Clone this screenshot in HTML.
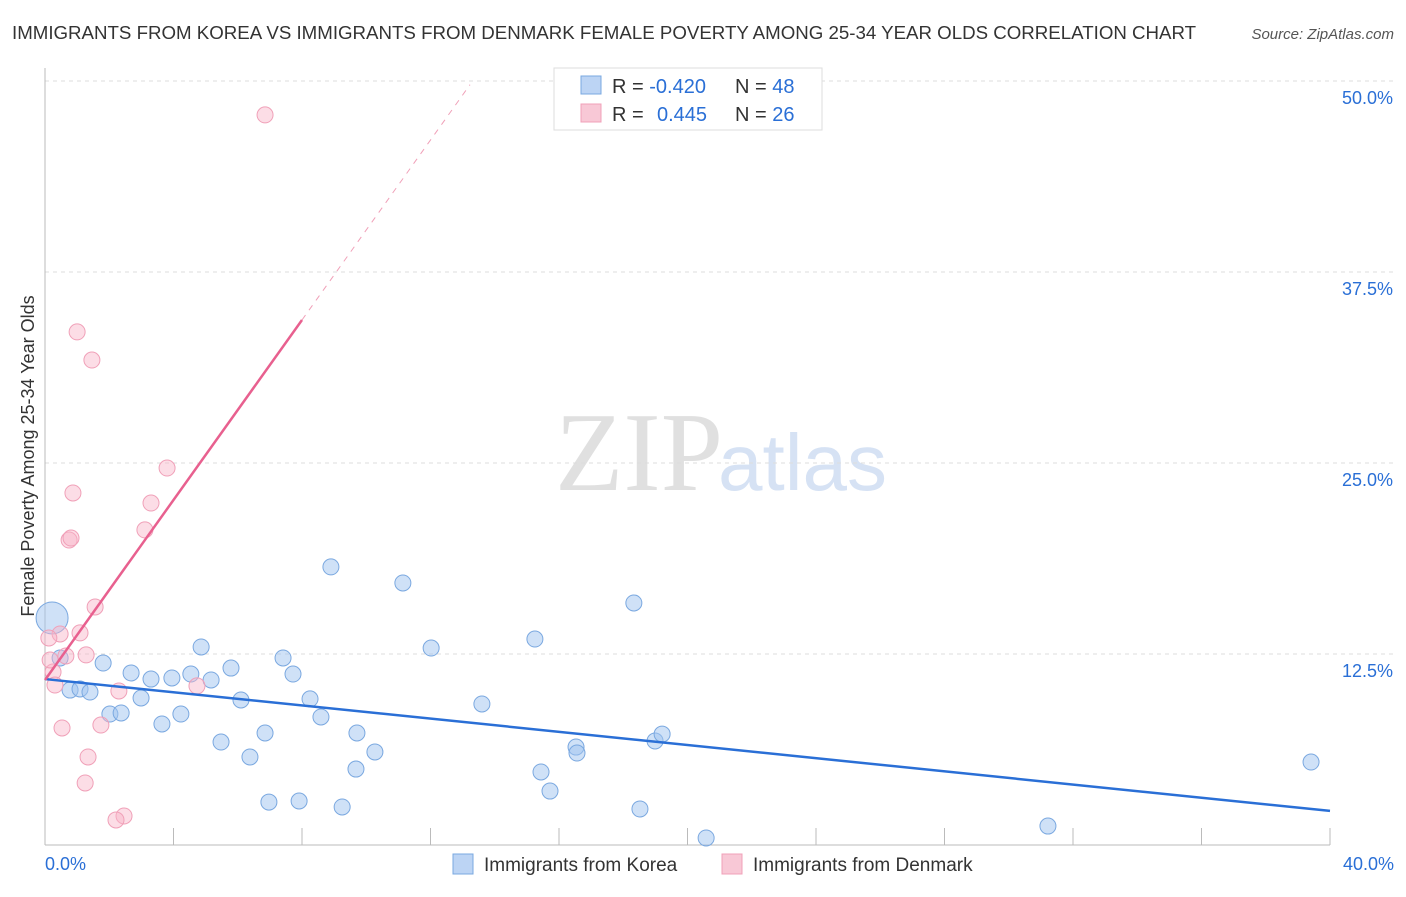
<!DOCTYPE html>
<html><head><meta charset="utf-8"><style>
body{margin:0;background:#fff;font-family:"Liberation Sans",sans-serif;}
svg text{font-family:"Liberation Sans",sans-serif;}
</style></head><body>
<svg id="c" width="1406" height="892" viewBox="0 0 1406 892">
<text x="12" y="39" font-size="18.7" fill="#333">IMMIGRANTS FROM KOREA VS IMMIGRANTS FROM DENMARK FEMALE POVERTY AMONG 25-34 YEAR OLDS CORRELATION CHART</text>
<text x="1394" y="39" font-size="15" fill="#555" text-anchor="end" font-style="italic">Source: ZipAtlas.com</text>
<text x="555" y="490" font-size="112" fill="#e0e0e0" style="font-family:'Liberation Serif',serif">ZIP</text>
<text x="718" y="490" font-size="80" fill="#d6e2f4">atlas</text>
<g id="grid"></g><g id="axes"></g><g id="marks"></g>
<text transform="translate(34,456) rotate(-90)" font-size="18" fill="#333" text-anchor="middle">Female Poverty Among 25-34 Year Olds</text>
<g>
<rect x="554" y="68" width="268" height="62" fill="#fff" stroke="#ddd"/>
<rect x="581" y="76" width="20" height="18" fill="#bcd4f4" stroke="#7aa8e0"/>
<rect x="581" y="104" width="20" height="18" fill="#f8c8d6" stroke="#f0a0b8"/>
<text x="612" y="93" font-size="20" fill="#333">R = <tspan fill="#2a6fd6">-0.420</tspan></text>
<text x="735" y="93" font-size="20" fill="#333">N = <tspan fill="#2a6fd6">48</tspan></text>
<text x="612" y="121" font-size="20" fill="#333">R = <tspan fill="#2a6fd6" x="657">0.445</tspan></text>
<text x="735" y="121" font-size="20" fill="#333">N = <tspan fill="#2a6fd6">26</tspan></text>
</g>
<g>
<rect x="453" y="854" width="20" height="20" fill="#bcd4f4" stroke="#7aa8e0"/>
<text x="484" y="871" font-size="19" fill="#333">Immigrants from Korea</text>
<rect x="722" y="854" width="20" height="20" fill="#f8c8d6" stroke="#f0a0b8"/>
<text x="753" y="871" font-size="19" fill="#333">Immigrants from Denmark</text>
</g>
</svg>
<script>
const blueX=[0.22,0.47,0.78,1.09,1.40,1.81,2.02,2.37,2.68,2.99,3.30,3.64,3.95,4.23,4.54,4.86,5.17,5.48,5.79,6.10,6.38,6.85,6.97,7.41,7.72,7.91,8.25,8.59,8.90,9.25,9.68,9.71,10.27,11.14,12.02,13.60,15.25,15.44,15.72,16.53,16.56,18.33,18.52,18.99,19.21,20.58,31.22,39.41];
const blueY=[14.86,12.24,10.14,10.21,10.01,11.91,8.57,8.64,11.26,9.62,10.86,7.92,10.93,8.57,11.19,12.96,10.80,6.74,11.58,9.49,5.76,7.33,2.81,12.24,11.19,2.88,9.56,8.38,18.20,2.49,4.97,7.33,6.09,17.15,12.89,9.23,13.48,4.78,3.53,6.41,6.02,15.84,2.36,6.81,7.26,0.46,1.24,5.43];
const pinkX=[6.85,1.00,1.46,3.80,0.87,3.30,3.11,0.75,0.81,1.56,1.09,0.47,0.12,0.65,1.28,0.25,0.31,2.30,4.73,0.53,1.74,1.34,1.25,2.46,2.21,0.16];
const pinkY=[47.78,33.58,31.74,24.67,23.04,22.38,20.62,19.96,20.09,15.58,13.88,13.81,13.55,12.37,12.44,11.32,10.47,10.08,10.41,7.66,7.85,5.76,4.06,1.90,1.64,12.11];
const yTicks=[12.5,25,37.5,50];
const yTickLabels=["12.5%","25.0%","37.5%","50.0%"];
const blueTrend=[10.86,2.23];
const pinkTrend=[10.80,34.36,49.76];
const pinkTrendX=[0,8,13.23];
const NS="http://www.w3.org/2000/svg";
const xs=v=>45+v/40*1285, ys=v=>845-v/12.5*191;
function mk(p,t,a){const e=document.createElementNS(NS,t);for(const k in a)e.setAttribute(k,a[k]);document.getElementById(p).appendChild(e);return e;}
yTicks.forEach((t,i)=>{
 const l=mk('grid','line',{x1:45,x2:1394,y1:ys(t),y2:ys(t),stroke:'#ddd','stroke-dasharray':'4,4'});
 
 
 const tx=mk('grid','text',{x:1393,y:ys(t)+23,'font-size':18,fill:'#2a6fd6','text-anchor':'end'});
 tx.textContent=yTickLabels[i];
 
 
});
const ax=mk('axes','line',{x1:45,x2:1330,y1:845,y2:845,stroke:'#bbb'});


const ay=mk('axes','line',{x1:45,x2:45,y1:68,y2:845,stroke:'#bbb'});


for(let i=1;i<=10;i++){const t=mk('axes','line',{x1:xs(i*4),x2:xs(i*4),y1:828,y2:845,stroke:'#bbb'});
 
 }
[["0.0%",45,'start'],["40.0%",1394,'end']].forEach(d=>{const t=mk('axes','text',{x:d[1],y:870,'font-size':18,fill:'#2a6fd6','text-anchor':d[2]});t.textContent=d[0];
 
 });
blueX.forEach((x,i)=>{const big=i===0;const c=mk('marks','circle',{cx:xs(x),cy:ys(blueY[i]),r:big?16:8,fill:'rgba(160,195,240,0.5)',stroke:'#7aa8e0','stroke-width':1});
 
 });
pinkX.forEach((x,i)=>{const c=mk('marks','circle',{cx:xs(x),cy:ys(pinkY[i]),r:8,fill:'rgba(248,180,200,0.45)',stroke:'#f0a0b8','stroke-width':1});
 
 });
const bl=mk('marks','line',{x1:xs(0),y1:ys(blueTrend[0]),x2:xs(40),y2:ys(blueTrend[1]),stroke:'#2a6fd6','stroke-width':2.5});


const pl=mk('marks','line',{x1:xs(pinkTrendX[0]),y1:ys(pinkTrend[0]),x2:xs(pinkTrendX[1]),y2:ys(pinkTrend[1]),stroke:'#e8608f','stroke-width':2.5});


const pd=mk('marks','line',{x1:xs(pinkTrendX[1]),y1:ys(pinkTrend[1]),x2:xs(pinkTrendX[2]),y2:ys(pinkTrend[2]),stroke:'#f0a0b8','stroke-width':1,'stroke-dasharray':'6,6'});


</script>
</body></html>
